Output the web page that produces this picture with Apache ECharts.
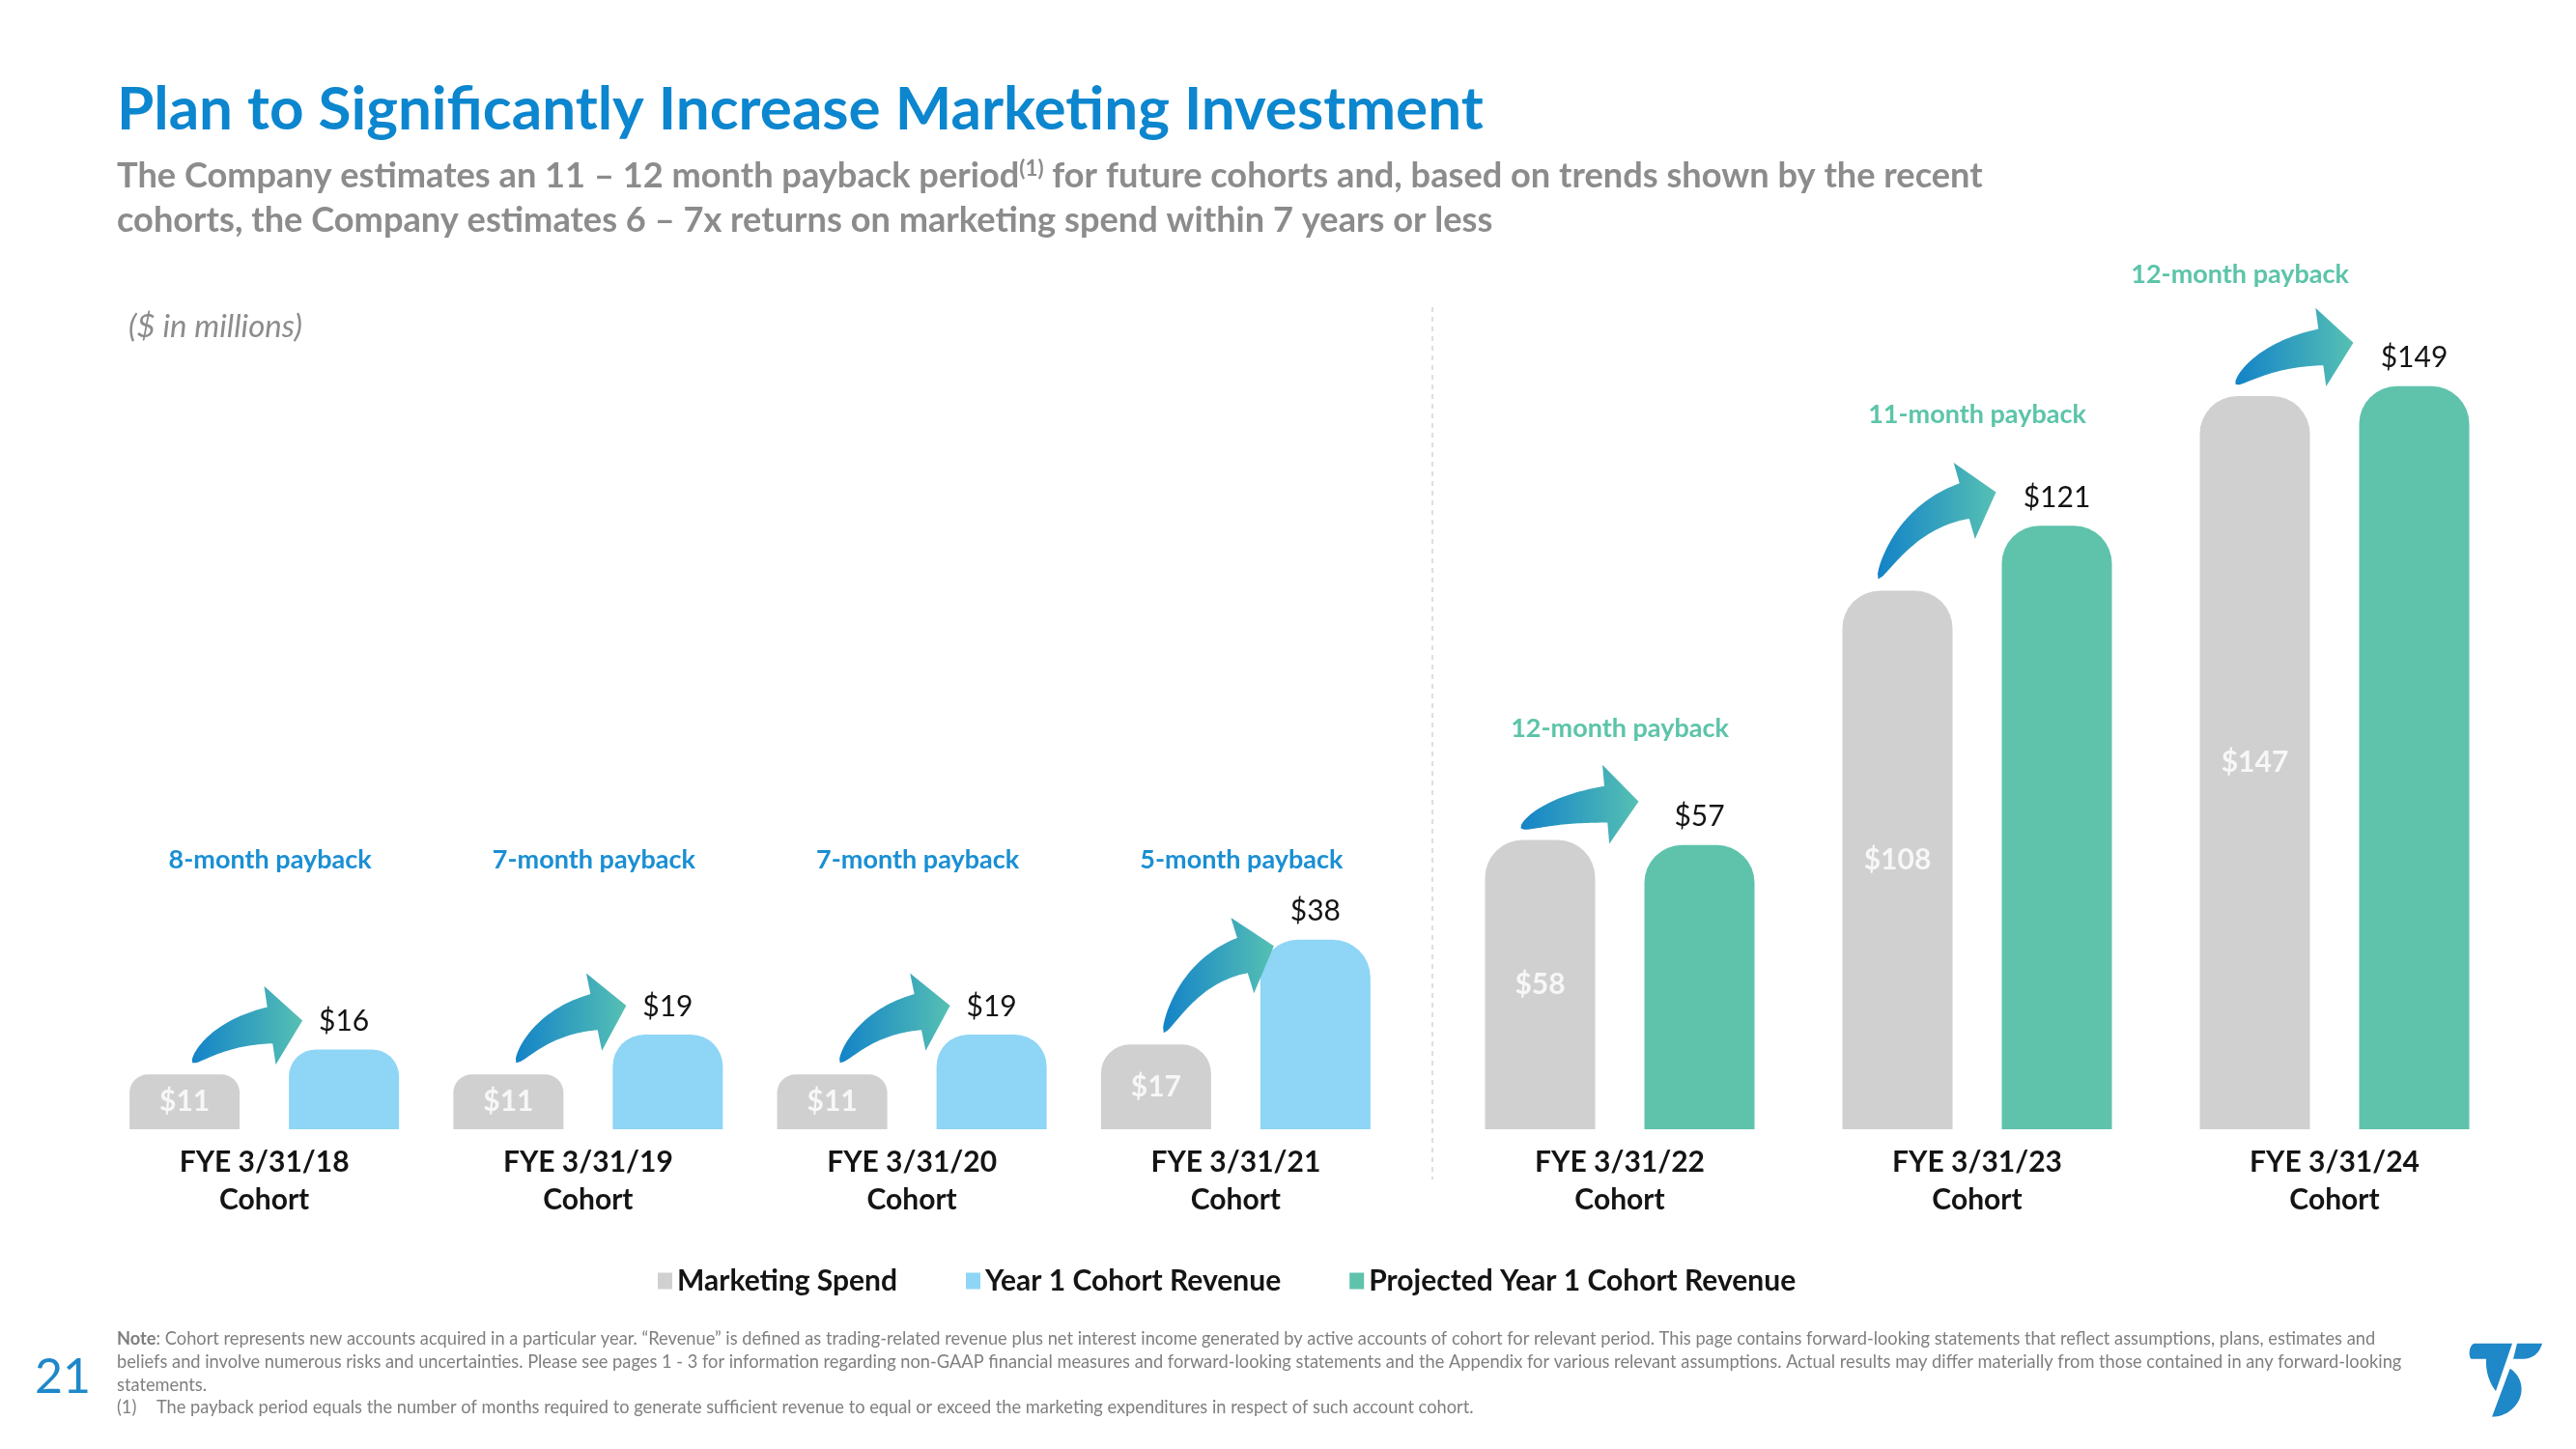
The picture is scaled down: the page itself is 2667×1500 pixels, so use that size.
<!DOCTYPE html>
<html><head><meta charset="utf-8">
<script src="https://cdn.jsdelivr.net/npm/echarts@6/dist/echarts.min.js"></script>
<style>html,body{margin:0;padding:0;background:#fff}#c{width:2667px;height:1500px}</style>
</head><body><div id="c"></div>
<script>
// ---------------- data ----------------
const cohorts = ['FYE 3/31/18','FYE 3/31/19','FYE 3/31/20','FYE 3/31/21','FYE 3/31/22','FYE 3/31/23','FYE 3/31/24'];
const marketingSpend = [11, 11, 11, 17, 58, 108, 147];
const year1Revenue = [16, 19, 19, 38];          // actual cohorts
const projectedRevenue = [57, 121, 149];        // projected cohorts
const paybackMonths = [8, 7, 7, 5, 12, 11, 12];
const seriesNames = ['Marketing Spend', 'Year 1 Cohort Revenue', 'Projected Year 1 Cohort Revenue'];

const titleText = 'Plan to Significantly Increase Marketing Investment';
const subLine1a = 'The Company estimates an 11 \u2013 12 month payback period';
const subLine1b = ' for future cohorts and, based on trends shown by the recent';
const subLine2 = 'cohorts, the Company estimates 6 \u2013 7x returns on marketing spend within 7 years or less';
const unitText = '($ in millions)';
const noteLine1 = ': Cohort represents new accounts acquired in a particular year. \u201cRevenue\u201d is defined as trading-related revenue plus net interest income generated by active accounts of cohort for relevant period. This page contains forward-looking statements that reflect assumptions, plans, estimates and';
const noteLine2 = 'beliefs and involve numerous risks and uncertainties. Please see pages 1 - 3 for information regarding non-GAAP financial measures and forward-looking statements and the Appendix for various relevant assumptions. Actual results may differ materially from those contained in any forward-looking';
const noteLine3 = 'statements.';
const noteLine4 = 'The payback period equals the number of months required to generate sufficient revenue to equal or exceed the marketing expenditures in respect of such account cohort.';
const pageNumber = '21';

// ---------------- style ----------------
const FONT = 'Lato, "Open Sans", sans-serif';
const C_GRAY = '#D0D0D0', C_BLUE = '#8ED5F6', C_GREEN = '#5FC3AB';
const C_TITLE = '#0C86CE', C_SUB = '#8C8C8C', C_PAY_L = '#1A8FD3', C_PAY_R = '#5CC4A9';
const BAR_W = 114, GAP_PX = 51;
const nA = year1Revenue.length;

const ctx = document.createElement('canvas').getContext('2d');
function measure(t, weight, style, size){ ctx.font = `${style||'normal'} ${weight||'normal'} ${size}px ${FONT}`; return ctx.measureText(t).width; }
function fit(t, weight, style, target){ return 100 * target / measure(t, weight, style, 100); }

const chart = echarts.init(document.getElementById('c'), null, {renderer:'canvas'});

function barSeries(name, gi, values, color, inside){
  return {
    name, type:'bar', xAxisIndex:gi, yAxisIndex:gi, barWidth:BAR_W, barGap:(GAP_PX/BAR_W*100)+'%',
    data: values.slice(), itemStyle:{color, borderRadius:[36,36,0,0]},
    label: inside ? {show:true, position:'inside', formatter:'${c}', color:'rgba(255,255,255,0.82)', fontFamily:FONT, fontWeight:'bold', fontSize:30}
                  : {show:true, position:'top', distance:14, formatter:'${c}', color:'#141414', fontFamily:FONT, fontSize:30},
    emphasis:{disabled:true}
  };
}
const axisLabel = {formatter: v => v + '\nCohort', fontFamily:FONT, fontWeight:'bold', fontSize:30, color:'#141414', lineHeight:39, margin:15};
const baseOpt = {
  animation:false,
  grid:[{left:106, width:1341, top:343, bottom:331, outerBoundsMode:'none'},
        {left:1492, width:1110, top:343, bottom:331, outerBoundsMode:'none'}],
  xAxis:[{gridIndex:0, type:'category', data:cohorts.slice(0,nA), axisLine:{show:false}, axisTick:{show:false}, axisLabel},
         {gridIndex:1, type:'category', data:cohorts.slice(nA), axisLine:{show:false}, axisTick:{show:false}, axisLabel}],
  yAxis:[{gridIndex:0, type:'value', min:0, max:160, show:false, splitLine:{show:false}},
         {gridIndex:1, type:'value', min:0, max:160, show:false, splitLine:{show:false}}],
  legend:{data:seriesNames, left:676, top:1306, icon:'rect', itemWidth:15, itemHeight:17, itemGap:71,
          textStyle:{fontFamily:FONT, fontWeight:'bold', fontSize:30, color:'#141414'}, selectedMode:false},
  series:[
    barSeries(seriesNames[0], 0, marketingSpend.slice(0,nA), C_GRAY, true),
    barSeries(seriesNames[1], 0, year1Revenue, C_BLUE, false),
    barSeries(seriesNames[0], 1, marketingSpend.slice(nA), C_GRAY, true),
    barSeries(seriesNames[2], 1, projectedRevenue, C_GREEN, false)
  ]
};
chart.setOption(baseOpt);

// ---------- derived layout (pixels from the chart's own scales) ----------
function px(gi, j, v){ return chart.convertToPixel({gridIndex:gi}, [j, v]); }
const half = GAP_PX/2 + BAR_W/2;
const groups = cohorts.map((c, i) => {
  const gi = i < nA ? 0 : 1, j = i < nA ? i : i - nA;
  const rev = gi === 0 ? year1Revenue[j] : projectedRevenue[j];
  const base = px(gi, j, 0);
  return {gi, j, cx:base[0], yBase:base[1], spendTop:px(gi,j,marketingSpend[i])[1], revTop:px(gi,j,rev)[1]};
});
function radius(top, yBase){ const h = yBase - top; return Math.round(0.34 * Math.min(BAR_W, h)); }
function withRadius(values, off, getTop){
  return values.map((v, j) => { const g = groups[off + j]; const r = radius(getTop(g), g.yBase); return {value:v, itemStyle:{borderRadius:[r,r,0,0]}}; });
}

function arrow(T, P){
  const hl = 34, hh = 41, bw = 19;
  let B = [P[0]-hl, P[1]], C, u;
  for (let k=0;k<3;k++){
    C = [T[0] + 0.35*(B[0]-T[0]), B[1] + 0.2*(T[1]-B[1])];
    const tx = B[0]-C[0], ty = B[1]-C[1], L = Math.hypot(tx,ty); u = [tx/L, ty/L];
    B = [P[0]-hl*u[0], P[1]-hl*u[1]];
  }
  const N = 30, up = [], lo = [];
  for (let i=0;i<=N;i++){
    const t = i/N, a=(1-t)*(1-t), b=2*(1-t)*t, c=t*t;
    const x = a*T[0]+b*C[0]+c*B[0], y = a*T[1]+b*C[1]+c*B[1];
    const dx = 2*(1-t)*(C[0]-T[0]) + 2*t*(B[0]-C[0]), dy = 2*(1-t)*(C[1]-T[1]) + 2*t*(B[1]-C[1]);
    const L = Math.hypot(dx,dy)||1, nx = dy/L, ny = -dx/L, w = bw*Math.pow(t,0.55);
    up.push([x+nx*w, y+ny*w]); lo.push([x-nx*w, y-ny*w]);
  }
  const nx = u[1], ny = -u[0];
  const pts = up.concat([[B[0]+nx*hh, B[1]+ny*hh], P, [B[0]-nx*hh, B[1]-ny*hh]], lo.reverse());
  return {type:'polygon', shape:{points:pts}, silent:true, z:5,
    style:{fill:{type:'linear', x:0, y:0, x2:1, y2:0, colorStops:[{offset:0,color:'#1383C8'},{offset:1,color:'#56C0B3'}]}}};
}

// simple sampler for absolute M/L/C path data -> polygon points
function pathPoints(d, ox, oy, s){
  const tok = d.match(/[MLCZ]|-?[\d.]+/g); const pts = []; let i = 0, cur = [0,0], cmd = '';
  const P = (x,y) => [ox + x*s, oy + y*s];
  while (i < tok.length){
    if (/[MLCZ]/.test(tok[i])) { cmd = tok[i++]; if (cmd === 'Z') continue; }
    if (cmd === 'M' || cmd === 'L'){ cur = [+tok[i], +tok[i+1]]; i += 2; pts.push(P(cur[0],cur[1])); }
    else if (cmd === 'C'){
      const c1=[+tok[i],+tok[i+1]], c2=[+tok[i+2],+tok[i+3]], e=[+tok[i+4],+tok[i+5]]; i += 6;
      for (let k=1;k<=16;k++){ const t=k/16, a=(1-t)**3, b=3*(1-t)**2*t, c=3*(1-t)*t*t, f=t**3;
        pts.push(P(a*cur[0]+b*c1[0]+c*c2[0]+f*e[0], a*cur[1]+b*c1[1]+c*c2[1]+f*e[1])); }
      cur = e;
    } else i++;
  }
  return pts;
}

const graphics = [];
function txt(x, y, text, o){
  const s = Object.assign({text, x, y, fill:'#000', fontFamily:FONT, fontSize:20, align:'left', verticalAlign:'middle', textAlign:'left', textVerticalAlign:'middle'}, o||{});
  if (o && o.align){ s.textAlign = o.align; }
  graphics.push({type:'text', silent:true, z:10, style:s});
}
// title & subtitle
const titleSize = fit(titleText, 'bold', 'normal', 1415);
txt(121, 114, titleText, {fill:C_TITLE, fontWeight:'bold', fontSize:titleSize});
const subSize = fit(subLine2, 'bold', 'normal', 1425);
graphics.push({type:'text', silent:true, z:10, style:{x:121, y:182, text:'{a|'+subLine1a+'}{s|(1)}{a|'+subLine1b+'}',
  verticalAlign:'middle', textVerticalAlign:'middle',
  rich:{a:{fontFamily:FONT, fontWeight:'bold', fontSize:subSize, fill:C_SUB, color:C_SUB},
        s:{fontFamily:FONT, fontWeight:'bold', fontSize:subSize*0.62, fill:C_SUB, color:C_SUB, verticalAlign:'top'}}}});
txt(121, 228, subLine2, {fill:C_SUB, fontWeight:'bold', fontSize:subSize});
txt(133, 338, unitText, {fill:'#8C8C8C', fontStyle:'italic', fontSize:fit(unitText,'normal','italic',180)});
// divider
graphics.push({type:'line', silent:true, shape:{x1:1483, y1:318, x2:1483, y2:1221}, style:{stroke:'#D4D4D4', lineWidth:1.5, lineDash:[5,5]}});

// arrows and payback labels
const leftMaxTop = Math.min.apply(null, groups.filter(g=>g.gi===0).map(g=>Math.min(g.spendTop,g.revTop)));
groups.forEach((g, i) => {
  const grayCx = g.cx - half, revLeft = g.cx + half - BAR_W/2;
  const T = [grayCx + (g.gi ? -20 : 8), g.spendTop - 12];
  const P = [revLeft + (g.gi ? -6 : 14), Math.max(g.revTop - (g.gi ? 45 : 30), T[1] - 90)];
  graphics.push(arrow(T, P));
  const label = paybackMonths[i] + '-month payback';
  const fs = 27;
  const w = measure(label, 'bold', 'normal', fs);
  let lx = g.cx + (g.gi ? 0 : 6);
  if (lx + w/2 > 2432) lx = 2432 - w/2;
  const ly = g.gi === 0 ? leftMaxTop - 83 : Math.min(g.spendTop, g.revTop) - 115;
  txt(lx, ly, label, {fill: g.gi ? C_PAY_R : C_PAY_L, fontWeight:'bold', fontSize:fs, align:'center'});
});

// footnotes
const noteSize = fit('Note' + noteLine1, 'normal', 'normal', 2340);
graphics.push({type:'text', silent:true, z:10, style:{x:121, y:1386, text:'{b|Note}{n|'+noteLine1+'}', verticalAlign:'middle', textVerticalAlign:'middle',
  rich:{b:{fontFamily:FONT, fontWeight:'bold', fontSize:noteSize, fill:'#7F7F7F', color:'#7F7F7F'},
        n:{fontFamily:FONT, fontSize:noteSize, fill:'#7F7F7F', color:'#7F7F7F'}}}});
txt(121, 1410, noteLine2, {fill:'#7F7F7F', fontSize:noteSize});
txt(121, 1434, noteLine3, {fill:'#7F7F7F', fontSize:noteSize});
txt(121, 1457, '(1)', {fill:'#7F7F7F', fontSize:noteSize});
txt(162, 1457, noteLine4, {fill:'#7F7F7F', fontSize:noteSize});
// page number
txt(65, 1426, pageNumber, {fill:'#1F88C9', fontSize:50, align:'center'});
// logo
[ 'M128,62 L243,62 L192,210 C172,185 160,150 162,110 L115,110 C105,100 110,62 128,62 Z',
  'M258,62 L336,62 C328,90 310,108 280,110 L246,110 Z',
  'M236,140 C275,165 282,215 257,250 C237,278 207,290 180,290 Z'
].forEach(d => graphics.push({type:'polygon', silent:true, shape:{points:pathPoints(d, 2520, 1370, 1/3)}, style:{fill:'#1E88C8'}}));

chart.setOption({
  graphic: graphics,
  series:[
    {data: withRadius(marketingSpend.slice(0,nA), 0, g=>g.spendTop)},
    {data: withRadius(year1Revenue, 0, g=>g.revTop)},
    {data: withRadius(marketingSpend.slice(nA), nA, g=>g.spendTop)},
    {data: withRadius(projectedRevenue, nA, g=>g.revTop)}
  ]
});
</script></body></html>
